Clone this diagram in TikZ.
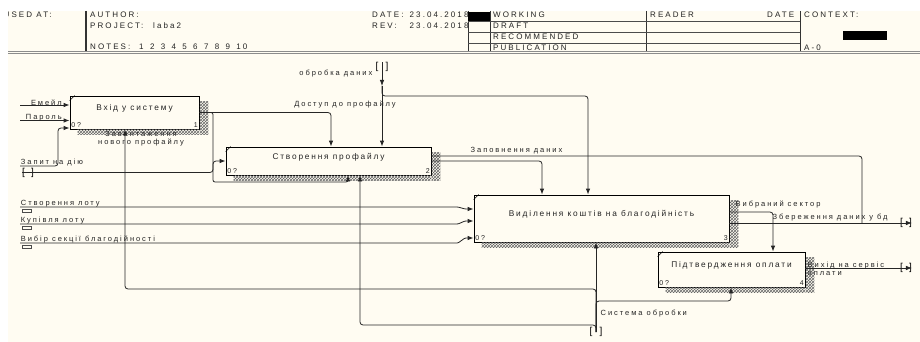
\documentclass[tikz,border=0pt]{standalone}
\usepackage{fontspec}
\setmainfont{Liberation Sans}
\newfontfamily\boxfont[LetterSpace=22]{Liberation Sans}
\newfontfamily\lblfont[LetterSpace=26]{Liberation Sans}
\newfontfamily\hdrfont[LetterSpace=26]{Liberation Sans}
\usepackage{tikz}
\usetikzlibrary{arrows.meta, positioning, patterns}
\definecolor{paper}{RGB}{255,252,242}
\definecolor{ink}{RGB}{35,35,35}
\newcommand{\boxtext}[1]{\raisebox{4pt}[\height][\depth]{#1}}

\begin{document}
\begin{tikzpicture}[
  x=1pt, y=-1pt,
  actbox/.style={draw=black, fill=paper, line width=0.8pt, inner sep=0pt, font=\boxfont\fontsize{8.3}{9}\selectfont, text=ink},
  corner/.style={font=\lblfont\fontsize{7}{7}\selectfont, inner sep=1.5pt, text=ink},
  lbl/.style={font=\lblfont\fontsize{7.5}{8}\selectfont, text=ink, inner sep=0.5pt},
  hdr/.style={font=\hdrfont\fontsize{8}{8}\selectfont, text=ink, anchor=west, inner sep=0pt},
  tunnel/.style={font=\fontsize{10}{10}\selectfont, inner sep=0pt, text=black},
  tick/.style={draw=black!70, line width=0.5pt, minimum width=9, minimum height=2.5, inner sep=0pt},
  conn/.style={draw=black!85, line width=0.8pt, rounded corners=3pt},
  arrow/.style={conn, -{Latex[length=6pt,width=4.5pt]}},
  hatch/.style={pattern=crosshatch, pattern color=black!60},
  hline/.style={draw=black!80, line width=0.8pt}
]
\useasboundingbox (0,0) rectangle (920,342);
\fill[white] (0,0) rectangle (920,342);
\fill[paper] (8,11) rectangle (920,342);

% header
\node[hdr] (usedat) at (3.5,15) {USED AT:};
\fill[white] (0,0) rectangle (8,60);
\draw[hline, line width=1.2pt] (86,11) -- (86,52);
\node[hdr] (author) at (90,15) {AUTHOR:};
\node[hdr] (project) at (90,26) {PROJECT:};
\node[hdr] (projname) at (153,26) {laba2};
\node[hdr] (notes) at (90,47) {NOTES:};
\foreach \i in {1,...,10}
  \node[hdr] (n\i) at ({139+(\i-1)*10.8},47) {\i};
\node[hdr] (date) at (372,15) {DATE:};
\node[hdr] (dateval) at (409.5,15) {23.04.2018};
\node[hdr] (rev) at (372,26) {REV:};
\node[hdr] (revval) at (409.5,26) {23.04.2018};
\foreach \xx in {468,490,646,800}
  \draw[hline] (\xx,11) -- (\xx,52);
\foreach \yy in {21.5,32.5,43}
  \draw[hline, draw=black!70] (468,\yy) -- (800,\yy);
\fill[black] (468,12) rectangle (490,21);
\node[hdr] (working) at (493,15) {WORKING};
\node[hdr] (draft) at (493,26) {DRAFT};
\node[hdr] (recom) at (493,37) {RECOMMENDED};
\node[hdr] (public) at (493,47.5) {PUBLICATION};
\node[hdr] (reader) at (650,15) {READER};
\node[hdr] (rdate) at (767,15) {DATE};
\node[hdr] (context) at (804,15) {CONTEXT:};
\fill[black] (843,31) rectangle (887,40);
\node[hdr] (nodeno) at (804,48) {A-0};
\draw[draw=black!45, line width=0.7pt] (8,51) -- (920,51);
\draw[draw=black!45, line width=0.7pt] (8,53.5) -- (920,53.5);

% activity boxes
\node[actbox, minimum width=129, minimum height=33,
  label={[corner, anchor=south west]south west:0?},
  label={[corner, anchor=south east]south east:1}] (b1) at (134.5,112.5) {\boxtext{Вхід у систему}};
\node[actbox, minimum width=205, minimum height=28,
  label={[corner, anchor=south west]south west:0?},
  label={[corner, anchor=south east]south east:2}] (b2) at (328.5,161) {\boxtext{Створення профайлу}};
\node[actbox, minimum width=255, minimum height=47,
  label={[corner, anchor=south west]south west:0?},
  label={[corner, anchor=south east]south east:3}] (b3) at (601.5,218.5) {\boxtext{Виділення коштів на благодійність}};
\node[actbox, minimum width=147, minimum height=35,
  label={[corner, anchor=south west]south west:0?},
  label={[corner, anchor=south east]south east:4}] (b4) at (731.5,269.5) {\boxtext{Підтвердження оплати}};
\foreach \b in {b1,b2,b3,b4} {
  \fill[hatch] ([xshift=0.5,yshift=-6]\b.north east) rectangle ([xshift=9,yshift=-5]\b.south east);
  \fill[hatch] ([xshift=8,yshift=-0.5]\b.south west) rectangle ([yshift=-5]\b.south east);
  \draw[line width=0.5pt] ([yshift=-5]\b.north west) -- ([xshift=5]\b.north west);
}

% tunnels
\node[tunnel] (tunData) at (382,67) {[\hspace{7pt}]};
\node[tunnel] (tunReq) at (28,172.5) {[\hspace{6pt}]};
\node[tunnel] (tunSave) at (906,223) {[\hspace{6pt}]};
\node[tunnel] (tunPay) at (906,268) {[\hspace{6pt}]};
\node[tunnel] (tunSys) at (596,332) {[\hspace{7pt}]};

% inputs of box 1
\coordinate (inMail) at (20,105);
\coordinate (inPass) at (20,120.5);
\coordinate (inReq) at (20,166);
\draw[arrow] (inMail) -- (b1.west |- inMail) node[lbl, at end, anchor=south east, xshift=-7, yshift=-1] (lMail) {Емейл};
\draw[arrow] (inPass) -- (b1.west |- inPass) node[lbl, at end, anchor=south east, xshift=-7, yshift=-1] (lPass) {Пароль};
\draw[arrow] (inReq) node[lbl, anchor=south west, yshift=-1] (lReq) {Запит на дію} -- (58,166) -- (58,128) -- (b1.west |- 0,128);
\draw[arrow] (tunReq.west) -- (213,172.5) -- (213,161) -- (b2.west |- 0,161);

% outputs of box 1
\draw[arrow] (b1.east) -- (331,112.5) -- (b2.north -| 331,0);
\draw[arrow, rounded corners=2pt] (b1.east) -- (213,112.5) -- (213,182) -- (348,182) -- (b2.south -| 348,0);
\node[lbl] (lAccess) at (345,104) {Доступ до профайлу};

% control: data processing
\coordinate (dataMid) at (382,86);
\draw[arrow] (tunData.north) -- (dataMid);
\draw[arrow] (dataMid) -- (b2.north -| dataMid);
\draw[arrow] (dataMid) -- (382,96) -- (588,96) -- (b3.north -| 588,0);
\node[lbl, anchor=east] (lData) at (373,74) {обробка даних};

% outputs of box 2
\draw[conn] (b2.east |- 0,156) -- (862,156) -- (862,223);
\node[lbl, anchor=south west] (lFill) at (470,155) {Заповнення даних};
\draw[arrow] (b2.east |- 0,161) -- (542,161) -- (b3.north -| 542,0);

% inputs of box 3
\foreach \nm/\yl/\ya/\txt in {Lot/207/209/Створення лоту, Buy/224/221/Купівля лоту, Sect/243/238/Вибір секції благодійності} {
  \coordinate (in\nm) at (20,\yl);
  \draw[arrow, rounded corners=1pt] (in\nm) node[lbl, anchor=south west, yshift=-1] (l\nm) {\txt} -- (458,\yl) -- (465,\ya) -- (b3.west |- 0,\ya);
  \node[tick] (t\nm) at (27,\yl+3.5) {};
}

% outputs of box 3
\draw[arrow] (b3.east |- 0,212) -- (773,212) -- (b4.north -| 773,0);
\node[lbl, anchor=south west] (lSector) at (735,209) {Вибраний сектор};
\draw[arrow] (b3.east |- 0,223) -- (tunSave.east);
\node[lbl, anchor=south west] (lSave) at (772,222) {Збереження даних у бд};

% output of box 4
\draw[arrow] (b4.east |- 0,268) -- (tunPay.east);
\node[lbl, align=left, anchor=west] (lPay) at (807,268.5) {Вихід на сервіс\\оплати};

% mechanism
\draw[arrow] (tunSys.center) -- (b3.south -| tunSys);
\draw[arrow] (tunSys.center) -- (596,301) -- (731,301) -- (b4.south -| 731,0);
\draw[arrow] (tunSys.center) -- (596,289) -- (125,289) -- (b1.south -| 125,0);
\draw[arrow] (tunSys.center) -- (596,325) -- (360,325) -- (b2.south -| 360,0);
\node[lbl, anchor=west] (lSys) at (600,314) {Система обробки};
\node[lbl, align=center] (lLoad) at (141,139) {Завантаження\\нового профайлу};
\end{tikzpicture}
\end{document}
